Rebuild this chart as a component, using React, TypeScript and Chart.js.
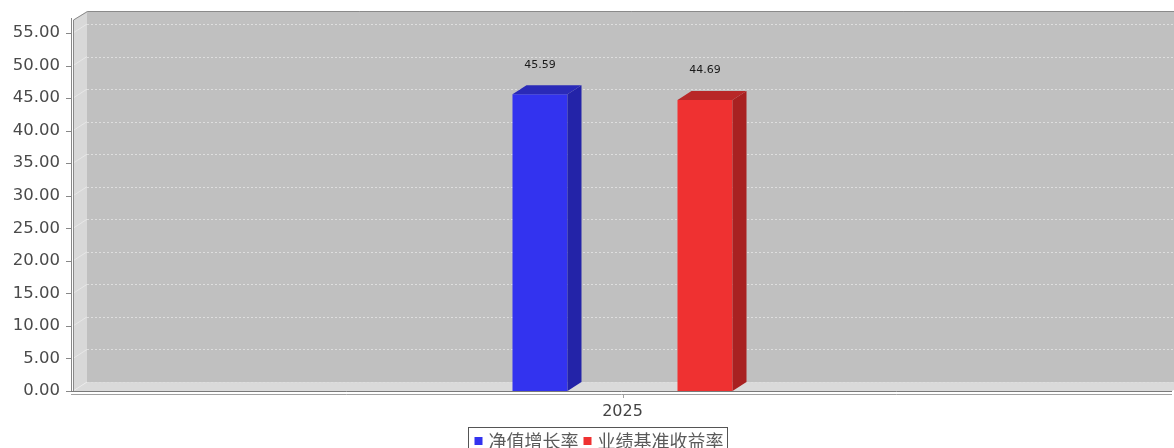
import React, { useEffect, useRef } from "react";
import { Chart, registerables } from "chart.js";

Chart.register(...registerables);

// ---- data ----
const categories = ["2025"];
const seriesNames = ["净值增长率", "业绩基准收益率"];
const navGrowth = [45.59];
const benchmarkReturn = [44.69];
const yMin = 0;
const yMax = 57;
const yStep = 5;

// ---- style ----
const W = 1174;
const H = 448;
const DX = 14;
const DY = 9;
const FRONT = ["#3333ef", "#ef3131"];
const SIDE = ["#2323a8", "#a82121"];
const TOP = ["#2a2ab8", "#b82828"];
const NUM_FONT = "'DejaVu Sans', Verdana, sans-serif";
const CJK_FONT = "'Noto Sans CJK SC', 'DejaVu Sans', sans-serif";

function poly(ctx: CanvasRenderingContext2D, pts: number[][]) {
  ctx.beginPath();
  ctx.moveTo(pts[0][0], pts[0][1]);
  for (let i = 1; i < pts.length; i++) ctx.lineTo(pts[i][0], pts[i][1]);
  ctx.closePath();
}

const plugin3d = {
  id: "jfree3d",
  beforeDatasetsDraw(chart: any) {
    const { ctx, chartArea: a } = chart;
    const ys = chart.scales.y;
    ctx.save();
    // back wall
    ctx.fillStyle = "#c0c0c0";
    ctx.fillRect(a.left + DX, a.top - DY, a.right - a.left + 20, a.bottom - a.top);
    // left wall
    ctx.fillStyle = "#d8d8d8";
    poly(ctx, [
      [a.left, a.top],
      [a.left + DX, a.top - DY],
      [a.left + DX, a.bottom - DY],
      [a.left, a.bottom],
    ]);
    ctx.fill();
    // floor
    ctx.fillStyle = "#dadada";
    poly(ctx, [
      [a.left, a.bottom],
      [a.left + DX, a.bottom - DY],
      [a.right + DX, a.bottom - DY],
      [a.right, a.bottom],
    ]);
    ctx.fill();
    // gridlines
    ctx.lineWidth = 1;
    for (let v = yMin; v <= yMax; v += yStep) {
      const py = ys.getPixelForValue(v);
      const gy = Math.round(py - DY) + 0.5;
      ctx.setLineDash([2, 2]);
      ctx.strokeStyle = "#dedede";
      ctx.beginPath();
      ctx.moveTo(a.left + DX, gy);
      ctx.lineTo(a.right + DX + 20, gy);
      ctx.stroke();
      ctx.setLineDash([]);
      ctx.strokeStyle = "rgba(240,240,240,0.6)";
      ctx.beginPath();
      ctx.moveTo(a.left, py);
      ctx.lineTo(a.left + DX, py - DY);
      ctx.stroke();
    }
    // outline
    ctx.strokeStyle = "#8a8a8a";
    ctx.beginPath();
    ctx.moveTo(a.left + 0.5, a.bottom);
    ctx.lineTo(a.left + 0.5, a.top);
    ctx.lineTo(a.left + DX + 0.5, a.top - DY + 0.5);
    ctx.lineTo(a.right + DX + 20, a.top - DY + 0.5);
    ctx.stroke();
    ctx.restore();
  },
  afterDatasetsDraw(chart: any) {
    const { ctx } = chart;
    ctx.save();
    chart.data.datasets.forEach((ds: any, di: number) => {
      const meta = chart.getDatasetMeta(di);
      meta.data.forEach((bar: any, i: number) => {
        const { x, y, base, width } = bar.getProps(["x", "y", "base", "width"], true);
        const l = x - width / 2;
        const r = x + width / 2;
        ctx.fillStyle = SIDE[di];
        poly(ctx, [
          [r, y],
          [r + DX, y - DY],
          [r + DX, base - DY],
          [r, base],
        ]);
        ctx.fill();
        ctx.fillStyle = TOP[di];
        poly(ctx, [
          [l, y],
          [l + DX, y - DY],
          [r + DX, y - DY],
          [r, y],
        ]);
        ctx.fill();
        // value label
        ctx.fillStyle = "#1a1a1a";
        ctx.font = `11px ${NUM_FONT}`;
        ctx.textAlign = "center";
        ctx.textBaseline = "middle";
        ctx.fillText(Number(ds.data[i]).toFixed(2), x, y - 29.5);
      });
    });
    ctx.restore();
  },
  afterDraw(chart: any) {
    const { ctx, chartArea: a } = chart;
    const ys = chart.scales.y;
    const xs = chart.scales.x;
    ctx.save();
    ctx.lineWidth = 1;
    // y axis line
    ctx.strokeStyle = "#888";
    ctx.beginPath();
    ctx.moveTo(71.5, a.top - 2);
    ctx.lineTo(71.5, a.bottom + 1);
    ctx.stroke();
    // y ticks
    for (let v = yMin; v <= yMax; v += yStep) {
      const py = Math.round(ys.getPixelForValue(v)) + 0.5;
      ctx.beginPath();
      ctx.moveTo(66, py);
      ctx.lineTo(71, py);
      ctx.stroke();
    }
    // x axis lines
    ctx.strokeStyle = "#7a7a7a";
    ctx.beginPath();
    ctx.moveTo(71, Math.round(a.bottom) + 0.5);
    ctx.lineTo(a.right, Math.round(a.bottom) + 0.5);
    ctx.stroke();
    ctx.strokeStyle = "#a0a0a0";
    ctx.beginPath();
    ctx.moveTo(71, Math.round(a.bottom) + 3.5);
    ctx.lineTo(a.right, Math.round(a.bottom) + 3.5);
    ctx.stroke();
    // category ticks
    categories.forEach((_, i) => {
      const px = Math.round(xs.getPixelForValue(i)) + 0.5;
      ctx.beginPath();
      ctx.moveTo(px, a.bottom + 4);
      ctx.lineTo(px, a.bottom + 7);
      ctx.stroke();
    });
    // legend
    ctx.font = `18px ${CJK_FONT}`;
    ctx.textBaseline = "middle";
    ctx.textAlign = "left";
    const boxLeft = 468.5;
    const boxTop = 427.5;
    const cy = 441;
    let cx = boxLeft + 6;
    const items = seriesNames.map((n, i) => ({ n, c: FRONT[i] }));
    const parts: { x: number; n: string; c: string }[] = [];
    items.forEach((it) => {
      parts.push({ x: cx, n: it.n, c: it.c });
      cx += 8 + 6 + ctx.measureText(it.n).width + 5;
    });
    const boxRight = cx - 1;
    ctx.fillStyle = "#ffffff";
    ctx.fillRect(boxLeft, boxTop, boxRight - boxLeft, 30);
    ctx.strokeStyle = "#555";
    ctx.strokeRect(boxLeft, boxTop, boxRight - boxLeft, 30);
    parts.forEach((p) => {
      ctx.fillStyle = p.c;
      ctx.fillRect(p.x, cy - 4, 8, 8);
      ctx.fillStyle = "#5a5a5a";
      ctx.fillText(p.n, p.x + 14, cy);
    });
    ctx.restore();
  },
};

export default function App() {
  const ref = useRef<HTMLCanvasElement | null>(null);
  useEffect(() => {
    if (!ref.current) return;
    const chart = new Chart(ref.current, {
      type: "bar",
      data: {
        labels: categories,
        datasets: [
          {
            label: seriesNames[0],
            data: navGrowth,
            backgroundColor: FRONT[0],
            borderWidth: 0,
            categoryPercentage: 0.3003,
            barPercentage: 0.3333,
          },
          {
            label: seriesNames[1],
            data: benchmarkReturn,
            backgroundColor: FRONT[1],
            borderWidth: 0,
            categoryPercentage: 0.3003,
            barPercentage: 0.3333,
          },
        ],
      },
      options: {
        animation: false,
        responsive: false,
        devicePixelRatio: 1,
        layout: { padding: { left: 0, right: 2, top: 20, bottom: 0 } },
        plugins: {
          legend: { display: false },
          tooltip: { enabled: false },
          title: { display: false },
        },
        scales: {
          x: {
            grid: { display: false, drawTicks: false },
            border: { display: false },
            ticks: {
              color: "#444",
              font: { family: NUM_FONT, size: 16 },
              padding: 11,
            },
            afterFit: (s: any) => {
              s.height = 57;
              s.paddingLeft = 0;
              s.paddingRight = 0;
            },
          },
          y: {
            min: yMin,
            max: yMax,
            grid: { display: false, drawTicks: false },
            border: { display: false },
            ticks: {
              stepSize: yStep,
              includeBounds: false,
              color: "#4a4a4a",
              font: { family: NUM_FONT, size: 16.5 },
              padding: 13,
              callback: (v: any) => Number(v).toFixed(2),
            },
            afterFit: (s: any) => {
              s.width = 73;
              s.paddingTop = 0;
              s.paddingBottom = 0;
            },
          },
        },
      },
      plugins: [plugin3d],
    });
    return () => chart.destroy();
  }, []);
  return (
    <div style={{ position: "absolute", left: 0, top: 0, width: W, height: H, background: "#fff" }}>
      <canvas ref={ref} width={W} height={H} style={{ display: "block" }} />
    </div>
  );
}
